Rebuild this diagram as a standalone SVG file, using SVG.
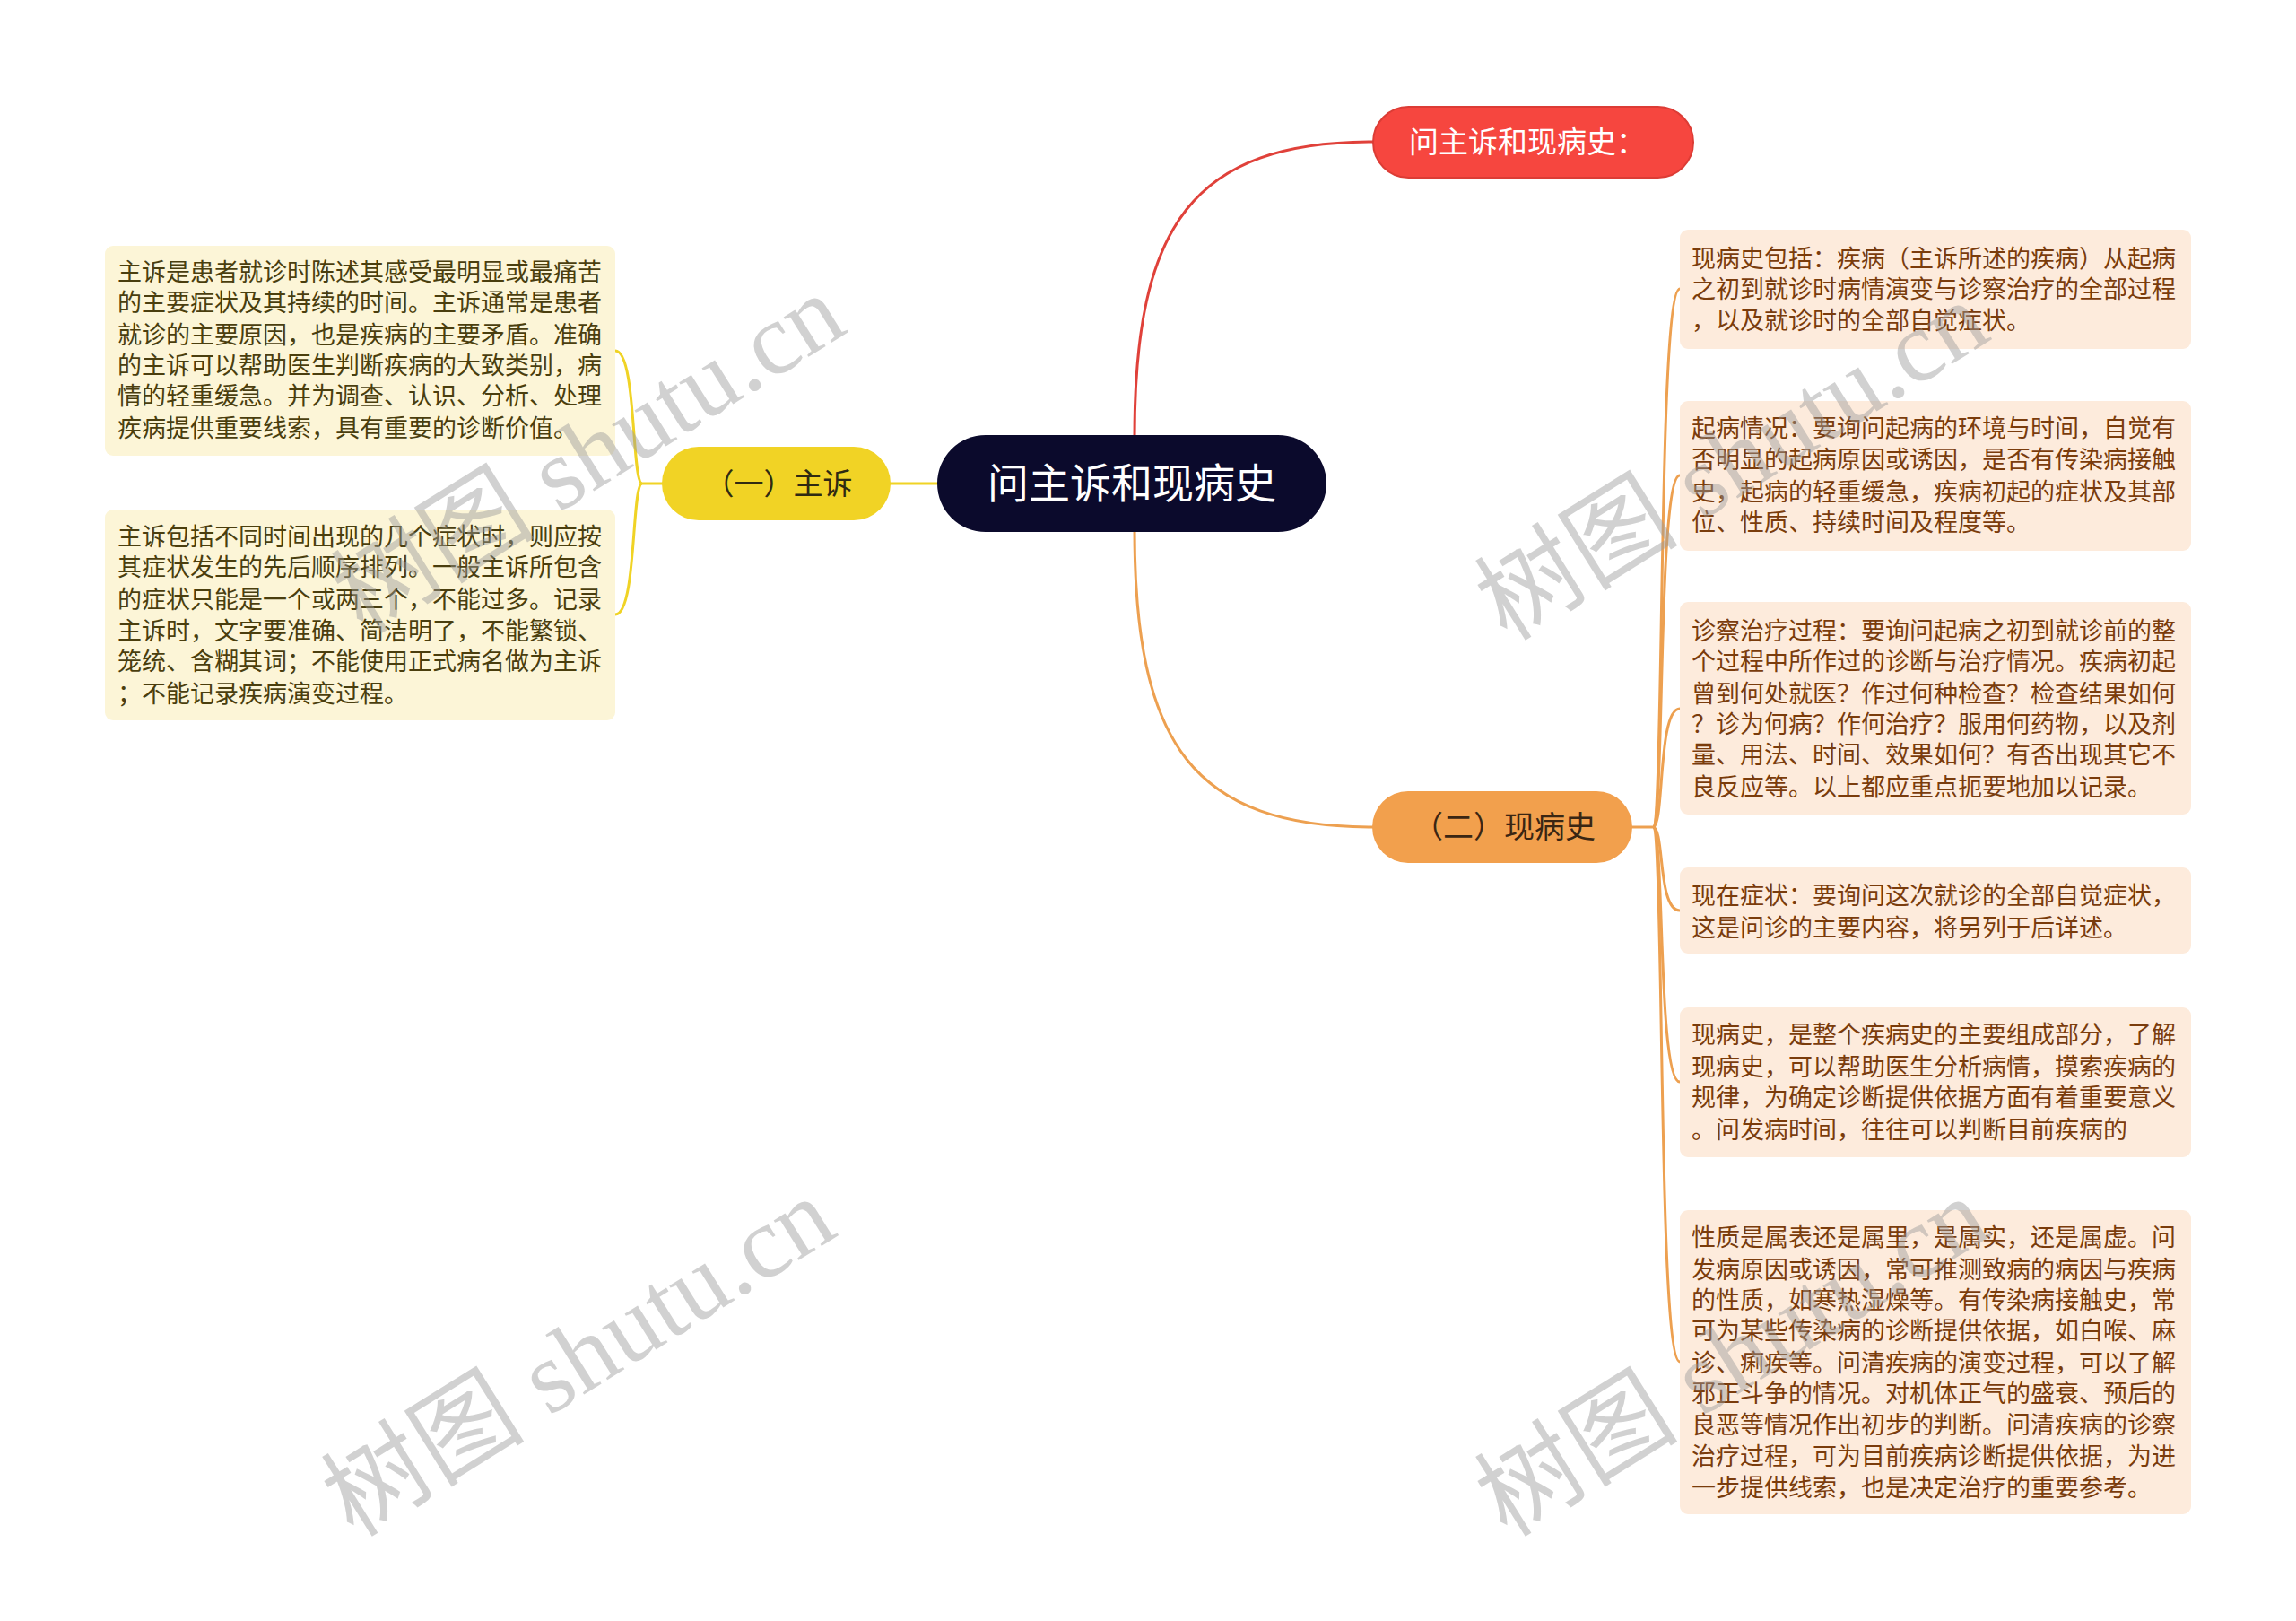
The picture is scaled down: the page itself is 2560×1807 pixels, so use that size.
<svg xmlns="http://www.w3.org/2000/svg" width="2560" height="1807" viewBox="0 0 2560 1807">
<style>
.t{font-family:"Noto Sans CJK SC","Noto Sans",sans-serif;}
.lb{fill:#fcf5d7;}
.rb{fill:#fdebdc;}
.lt{font-family:"Noto Sans CJK SC",sans-serif;font-size:27px;fill:#4a3e0e;}
.rt{font-family:"Noto Sans CJK SC",sans-serif;font-size:27px;fill:#7a3c0c;}
.wm{font-family:"Liberation Serif","Noto Sans CJK SC",serif;font-size:114px;fill:#9a9a9a;fill-opacity:0.45;}
.cy{stroke:#f0d325;stroke-width:3;fill:none;}
.co{stroke:#eda050;stroke-width:3;fill:none;}
.cr{stroke:#e0413a;stroke-width:3;fill:none;}
</style>
<rect width="2560" height="1807" fill="#ffffff"/>
<g id="connectors">
<path class="cr" d="M1265,488 C1265,250 1330,158 1532,158"/>
<path class="co" d="M1265,590 C1265,830 1330,922 1532,922"/>
<path class="cy" d="M1047,539 L991,539"/>
<path class="cy" d="M740,539 L716,539"/>
<path class="cy" d="M716,539 C704,539 710,391 686,391"/>
<path class="cy" d="M716,539 C704,539 710,685 686,685"/>
<path class="co" d="M1818,922 L1843,922"/>
<path class="co" d="M1843,922 C1856,922 1848,322 1873,322"/>
<path class="co" d="M1843,922 C1856,922 1848,530 1873,530"/>
<path class="co" d="M1843,922 C1856,922 1848,790 1873,790"/>
<path class="co" d="M1843,922 C1856,922 1848,1015 1873,1015"/>
<path class="co" d="M1843,922 C1856,922 1848,1206 1873,1206"/>
<path class="co" d="M1843,922 C1856,922 1848,1518 1873,1518"/>
</g>
<g id="root">
<rect x="1045" y="485" width="434" height="108" rx="54" fill="#0b0a2c"/>
<text class="t" x="1262" y="555" font-size="46" fill="#ffffff" text-anchor="middle">问主诉和现病史</text>
</g>
<g id="n-red">
<rect x="1531" y="119" width="357" height="79" rx="39.5" fill="#f6463f" stroke="#dc3c35" stroke-width="2"/>
<text class="t" x="1571" y="170" font-size="33" fill="#ffffff">问主诉和现病史：</text>
</g>
<g id="n-yellow">
<rect x="738" y="498" width="255" height="82" rx="41" fill="#f1d325"/>
<text class="t" x="868" y="551" font-size="33" fill="#2f2a12" text-anchor="middle">（一）主诉</text>
</g>
<g id="n-orange">
<rect x="1530" y="882" width="290" height="80" rx="40" fill="#f2a04d"/>
<text class="t" x="1677" y="934" font-size="34" fill="#3a2613" text-anchor="middle">（二）现病史</text>
</g>
<g id="l1">
<rect class="lb" x="117" y="274" width="569" height="234" rx="9"/>
<text class="lt" x="131" y="313">主诉是患者就诊时陈述其感受最明显或最痛苦</text>
<text class="lt" x="131" y="347">的主要症状及其持续的时间。主诉通常是患者</text>
<text class="lt" x="131" y="383">就诊的主要原因，也是疾病的主要矛盾。准确</text>
<text class="lt" x="131" y="417">的主诉可以帮助医生判断疾病的大致类别，病</text>
<text class="lt" x="131" y="451">情的轻重缓急。并为调查、认识、分析、处理</text>
<text class="lt" x="131" y="487">疾病提供重要线索，具有重要的诊断价值。</text>
</g>
<g id="l2">
<rect class="lb" x="117" y="568" width="569" height="235" rx="9"/>
<text class="lt" x="131" y="608">主诉包括不同时间出现的几个症状时，则应按</text>
<text class="lt" x="131" y="642">其症状发生的先后顺序排列。一般主诉所包含</text>
<text class="lt" x="131" y="678">的症状只能是一个或两三个，不能过多。记录</text>
<text class="lt" x="131" y="713">主诉时，文字要准确、简洁明了，不能繁锁、</text>
<text class="lt" x="131" y="747">笼统、含糊其词；不能使用正式病名做为主诉</text>
<text class="lt" x="131" y="783">；不能记录疾病演变过程。</text>
</g>
<g id="r1">
<rect class="rb" x="1873" y="256" width="570" height="133" rx="9"/>
<text class="rt" x="1886" y="298">现病史包括：疾病（主诉所述的疾病）从起病</text>
<text class="rt" x="1886" y="332">之初到就诊时病情演变与诊察治疗的全部过程</text>
<text class="rt" x="1886" y="367">，以及就诊时的全部自觉症状。</text>
</g>
<g id="r2">
<rect class="rb" x="1873" y="447" width="570" height="167" rx="9"/>
<text class="rt" x="1886" y="487">起病情况：要询问起病的环境与时间，自觉有</text>
<text class="rt" x="1886" y="522">否明显的起病原因或诱因，是否有传染病接触</text>
<text class="rt" x="1886" y="558">史，起病的轻重缓急，疾病初起的症状及其部</text>
<text class="rt" x="1886" y="592">位、性质、持续时间及程度等。</text>
</g>
<g id="r3">
<rect class="rb" x="1873" y="671" width="570" height="237" rx="9"/>
<text class="rt" x="1886" y="713">诊察治疗过程：要询问起病之初到就诊前的整</text>
<text class="rt" x="1886" y="747">个过程中所作过的诊断与治疗情况。疾病初起</text>
<text class="rt" x="1886" y="783">曾到何处就医？作过何种检查？检查结果如何</text>
<text class="rt" x="1886" y="817">？诊为何病？作何治疗？服用何药物，以及剂</text>
<text class="rt" x="1886" y="851">量、用法、时间、效果如何？有否出现其它不</text>
<text class="rt" x="1886" y="887">良反应等。以上都应重点扼要地加以记录。</text>
</g>
<g id="r4">
<rect class="rb" x="1873" y="967" width="570" height="96" rx="9"/>
<text class="rt" x="1886" y="1008">现在症状：要询问这次就诊的全部自觉症状，</text>
<text class="rt" x="1886" y="1044">这是问诊的主要内容，将另列于后详述。</text>
</g>
<g id="r5">
<rect class="rb" x="1873" y="1123" width="570" height="167" rx="9"/>
<text class="rt" x="1886" y="1163">现病史，是整个疾病史的主要组成部分，了解</text>
<text class="rt" x="1886" y="1199">现病史，可以帮助医生分析病情，摸索疾病的</text>
<text class="rt" x="1886" y="1233">规律，为确定诊断提供依据方面有着重要意义</text>
<text class="rt" x="1886" y="1269">。问发病时间，往往可以判断目前疾病的</text>
</g>
<g id="r6">
<rect class="rb" x="1873" y="1349" width="570" height="339" rx="9"/>
<text class="rt" x="1886" y="1389">性质是属表还是属里，是属实，还是属虚。问</text>
<text class="rt" x="1886" y="1425">发病原因或诱因，常可推测致病的病因与疾病</text>
<text class="rt" x="1886" y="1459">的性质，如寒热湿燥等。有传染病接触史，常</text>
<text class="rt" x="1886" y="1493">可为某些传染病的诊断提供依据，如白喉、麻</text>
<text class="rt" x="1886" y="1529">诊、痢疾等。问清疾病的演变过程，可以了解</text>
<text class="rt" x="1886" y="1563">邪正斗争的情况。对机体正气的盛衰、预后的</text>
<text class="rt" x="1886" y="1598">良恶等情况作出初步的判断。问清疾病的诊察</text>
<text class="rt" x="1886" y="1633">治疗过程，可为目前疾病诊断提供依据，为进</text>
<text class="rt" x="1886" y="1668">一步提供线索，也是决定治疗的重要参考。</text>
</g>
<g id="watermarks">
<text class="wm" transform="translate(656,506) rotate(-32)" text-anchor="middle" dominant-baseline="central">树图 shutu.cn</text>
<text class="wm" transform="translate(645,1513) rotate(-32)" text-anchor="middle" dominant-baseline="central">树图 shutu.cn</text>
<text class="wm" transform="translate(1931,514) rotate(-32)" text-anchor="middle" dominant-baseline="central">树图 shutu.cn</text>
<text class="wm" transform="translate(1931,1513) rotate(-32)" text-anchor="middle" dominant-baseline="central">树图 shutu.cn</text>
</g>
</svg>
